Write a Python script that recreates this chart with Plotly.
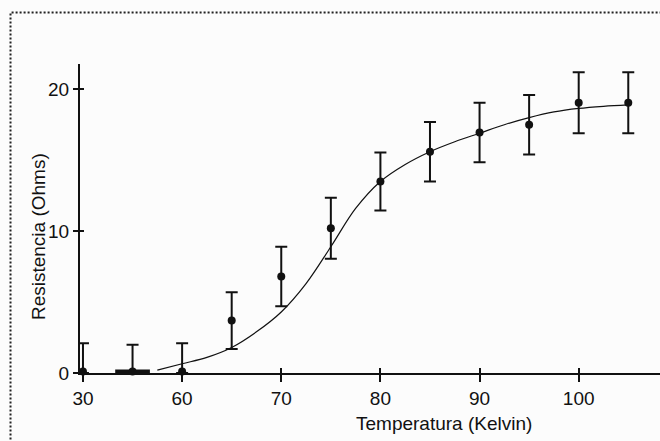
import plotly.graph_objects as go

# Measured resistance vs temperature, with uncertainties
temperature = [30, 55, 60, 65, 70, 75, 80, 85, 90, 95, 100, 105]
resistance = [0.1, 0.1, 0.1, 3.7, 6.8, 10.2, 13.5, 15.6, 16.95, 17.5, 19.05, 19.05]
uncertainty = [2.0, 1.9, 2.0, 2.0, 2.1, 2.15, 2.05, 2.1, 2.1, 2.1, 2.15, 2.15]
temp_spread = [0, 1.75, 0, 0, 0, 0, 0, 0, 0, 0, 0, 0]

# Fitted transition curve
fit_temperature = [57.5, 60, 62.5, 65, 67.5, 70, 72.5, 75, 77.5, 80, 82.5,
                   85, 87.5, 90, 92.5, 95, 97.5, 100, 102.5, 105]
fit_resistance = [0.2, 0.65, 1.1, 1.8, 2.9, 4.3, 6.3, 8.9, 11.6, 13.5, 14.7,
                  15.6, 16.3, 16.9, 17.5, 18.0, 18.4, 18.65, 18.8, 18.9]

tick_temperatures = [30, 60, 70, 80, 90, 100]
y_ticks = [0, 10, 20]

# Broken temperature axis: everything below the break is shifted right
BREAK_AT = 50
BREAK_SHIFT = 20


def axis_pos(t):
    return t + BREAK_SHIFT if t < BREAK_AT else t


xs = [axis_pos(t) for t in temperature]
fit_xs = [axis_pos(t) for t in fit_temperature]
tick_xs = [axis_pos(t) for t in tick_temperatures]
err_minus = [min(e, r) for e, r in zip(uncertainty, resistance)]

FONT = "Liberation Sans, Arial, sans-serif"
INK = "#111111"

fig = go.Figure()

fig.add_trace(go.Scatter(
    x=fit_xs, y=fit_resistance, mode="lines",
    line=dict(color=INK, width=1.2, shape="spline"),
    hoverinfo="skip", showlegend=False,
))

fig.add_trace(go.Scatter(
    x=xs, y=resistance, mode="markers",
    marker=dict(color=INK, size=8, symbol="circle"),
    error_y=dict(type="data", array=uncertainty, arrayminus=err_minus,
                 visible=True, color=INK, thickness=2, width=6),
    error_x=dict(type="data", array=temp_spread, visible=True,
                 color=INK, thickness=4, width=0),
    cliponaxis=False, showlegend=False,
))

# Inner halves of the crossing tick marks
fig.add_trace(go.Scatter(x=[None], y=[None], xaxis="x2", yaxis="y2",
                         showlegend=False, hoverinfo="skip"))

x_range = [49.7, 108.2]
y_range = [0, 21.78]

fig.update_layout(
    width=660, height=441,
    margin=dict(l=80, r=0, t=64, b=68),
    paper_bgcolor="#fcfcfc", plot_bgcolor="#fcfcfc",
    font=dict(family=FONT, size=19, color=INK),
    xaxis=dict(
        range=x_range, tickvals=tick_xs,
        ticktext=[str(t) for t in tick_temperatures],
        showline=True, linecolor=INK, linewidth=2,
        ticks="outside", ticklen=7, tickwidth=2, tickcolor=INK,
        showgrid=False, zeroline=False,
        tickfont=dict(family=FONT, size=19, color=INK),
    ),
    yaxis=dict(
        range=y_range, tickvals=y_ticks,
        showline=True, linecolor=INK, linewidth=2,
        ticks="outside", ticklen=5, tickwidth=2, tickcolor=INK,
        showgrid=False, zeroline=False,
        tickfont=dict(family=FONT, size=19, color=INK),
    ),
    xaxis2=dict(
        overlaying="x", range=x_range, tickvals=tick_xs,
        showticklabels=False, ticks="inside", ticklen=5, tickwidth=2,
        tickcolor=INK, showline=False, showgrid=False, zeroline=False,
        side="bottom",
    ),
    yaxis2=dict(
        overlaying="y", range=y_range, tickvals=y_ticks,
        showticklabels=False, ticks="inside", ticklen=4, tickwidth=2,
        tickcolor=INK, showline=False, showgrid=False, zeroline=False,
        side="left",
    ),
    annotations=[
        dict(text="Temperatura (Kelvin)", xref="paper", yref="paper",
             x=0.6276, y=-0.162, xanchor="center", yanchor="middle",
             showarrow=False, font=dict(family=FONT, size=19, color=INK)),
        dict(text="Resistencia (Ohms)", xref="paper", yref="paper",
             x=-0.0724, y=0.44, xanchor="center", yanchor="middle",
             textangle=-90, showarrow=False,
             font=dict(family=FONT, size=19, color=INK)),
    ],
    shapes=[
        dict(type="rect", xref="paper", yref="paper",
             x0=-0.1198, y0=-0.4, x1=1.1, y1=1.1667,
             line=dict(color="#222222", width=2, dash="2px,2px"),
             layer="below"),
    ],
)

fig.write_html("out.html")
